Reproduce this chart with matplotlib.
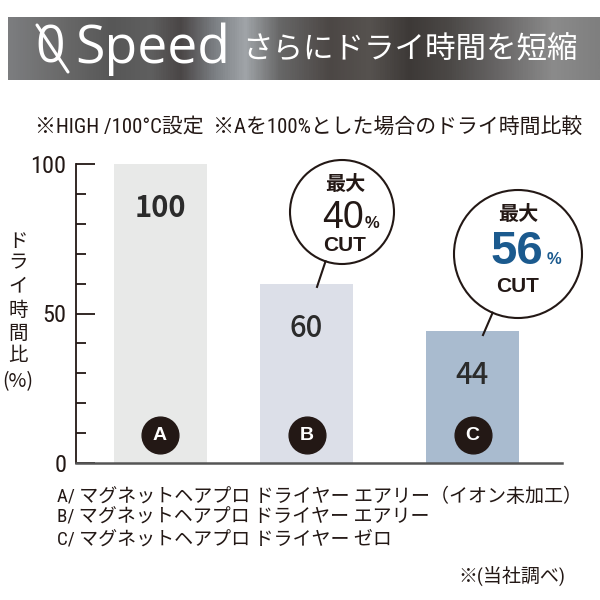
import matplotlib
matplotlib.use("Agg")
import matplotlib.pyplot as plt
import numpy as np
from matplotlib import font_manager
from matplotlib.colors import LinearSegmentedColormap
from matplotlib.lines import Line2D
from matplotlib.patches import Ellipse
from matplotlib.ticker import MultipleLocator

# --- data ---
labels = ["A", "B", "C"]
values = [100, 60, 44]
cut_pct = [None, 40, 56]
bar_colors = ["#e8e9e8", "#dcdfe8", "#a9bbcf"]
yticks = [0, 50, 100]
models = [
    "A/ マグネットヘアプロ ドライヤー エアリー（イオン未加工）",
    "B/ マグネットヘアプロ ドライヤー エアリー",
    "C/ マグネットヘアプロ ドライヤー ゼロ",
]
title_en = "Speed"
title_jp = "さらにドライ時間を短縮"
subtitle = "※HIGH /100°C設定  ※Aを100%とした場合のドライ時間比較"
ylabel_chars = ["ド", "ラ", "イ", "時", "間", "比", "(%)"]
note = "※(当社調べ)"

JP = "Noto Sans CJK JP"
SANS = "Liberation Sans"
INK = "#231815"


def pick_narrow():
    # look for an installed narrow / condensed sans face for the Latin text
    prefs = ["liberation sans narrow", "arial narrow", "roboto condensed", "noto sans",
             "dejavu sans", "open sans", "lato", "inter"]
    best = None
    for f in font_manager.fontManager.ttflist:
        name = f.name.lower()
        tag = (f.name + " " + f.fname.split("/")[-1]).lower()
        if "serif" in name.replace("sans serif", "") or "mono" in name or "cjk" in name:
            continue
        if not ("narrow" in tag or "condensed" in tag or str(f.stretch) in ("condensed", "semi-condensed")):
            continue
        if "extra" in tag or "ultra" in tag:
            continue
        rank = next((i for i, p in enumerate(prefs) if name.startswith(p)), len(prefs))
        if "semi" in tag:
            rank += 0.5
        if best is None or rank < best[0]:
            best = (rank, f.name)
    if best is None:
        return "Roboto", "normal"
    return best[1], "condensed"


NARROW, STRETCH = pick_narrow()

W = H = 600
fig = plt.figure(figsize=(6, 6), dpi=100)


def fx(px):
    return px / W


def fy(py):
    return 1 - py / H


# --- banner ---
stops = [(8, "#7c7d7f"), (60, "#6a6a6a"), (110, "#575757"), (150, "#5f5f5f"),
         (180, "#4a4646"), (215, "#7c8084"), (245, "#a0a4a8"), (280, "#676767"),
         (330, "#4c4745"), (370, "#56524f"), (410, "#3d3937"), (450, "#4b4846"),
         (500, "#686666"), (555, "#8b8b8b"), (600, "#7f7f7f")]
cmap = LinearSegmentedColormap.from_list("metal", [((p - 8) / 592, c) for p, c in stops])
bax = fig.add_axes([fx(8), fy(80), fx(592), 63 / H])
bax.imshow(np.linspace(0, 1, 600)[None, :], aspect="auto", cmap=cmap, extent=(0, 1, 0, 1))
bax.axis("off")

fig.text(fx(50), fy(49), "0", family="Open Sans", size=37, color="white", ha="center", va="center")
fig.add_artist(Line2D([fx(37), fx(68)], [fy(25), fy(72)], transform=fig.transFigure,
                      color="white", lw=2.2, solid_capstyle="round"))
fig.text(fx(75), fy(49), title_en, family="Open Sans", size=38.5, color="white", ha="left", va="center")
fig.text(fx(242), fy(50), title_jp, family=JP, size=22, color="white", ha="left", va="center")

fig.text(fx(35), fy(127), subtitle, family=[NARROW, JP], stretch=STRETCH, size=15, color=INK,
         ha="left", va="center")

# --- chart ---
left, right, top, bottom = 76, 562, 164, 463
ax = fig.add_axes([fx(left), fy(bottom), (right - left) / W, (bottom - top) / H])
ax.set_xlim(left, right)
ax.set_ylim(0, 100)
ppu = (bottom - top) / 100.0  # pixels per value unit

bar_x = [160, 306.5, 472.5]
ax.bar(bar_x, values, width=93, color=bar_colors, zorder=1)

for s in ["top", "right"]:
    ax.spines[s].set_visible(False)
ax.spines["left"].set_color(INK)
ax.spines["bottom"].set_color("#555555")
ax.spines["left"].set_linewidth(1.3)
ax.spines["bottom"].set_linewidth(1.8)
ax.set_xticks([])
ax.set_yticks(yticks)
ax.yaxis.set_minor_locator(MultipleLocator(10))
ax.tick_params(axis="y", which="major", direction="in", length=14, width=1.3, color=INK, pad=7,
               labelsize=17.5, labelcolor=INK)
ax.tick_params(axis="y", which="minor", direction="in", length=7, width=1.3, color=INK)
for t in ax.get_yticklabels():
    t.set_family(NARROW)
    t.set_stretch(STRETCH)

for i, (x, v) in enumerate(zip(bar_x, values)):
    ax.annotate(str(v), (x, v), xytext=(0, -32), textcoords="offset points", ha="center", va="center",
                family=JP, size=21, weight="bold" if i == 0 else "medium", color="#2b2b2b")

# letter badges
badge_y = 28 / ppu
ax.scatter(bar_x, [badge_y] * len(bar_x), s=700, color=INK, zorder=3, clip_on=False)
for x, lab in zip(bar_x, labels):
    ax.text(x, badge_y, lab, ha="center", va="center", family=SANS, weight="bold", size=14,
            color="white", zorder=4)

# speech bubbles, offsets in pixels
bubbles = {
    1: dict(dx=35.5, cy=212, r=52, tail_dx=-10.5, tail_dy=1.1, text_dx=3, num_size=27,
            num_weight="normal", num_color=INK, top_dy=-28, num_dy=16, num_dx=-2, pct_dx=27, cut_dy=34),
    2: dict(dx=45.5, cy=254, r=64, tail_dx=-10.5, tail_dy=1.2, text_dx=0, num_size=34,
            num_weight="bold", num_color="#1b5a8e", top_dy=-40, num_dy=10, num_dx=-1, pct_dx=36, cut_dy=32),
}
for i, b in bubbles.items():
    bx = bar_x[i] + b["dx"]
    cy = (bottom - b["cy"]) / ppu
    ax.add_patch(Ellipse((bx, cy), 2 * b["r"], 2 * b["r"] / ppu, facecolor="white", edgecolor=INK,
                         lw=1.5, zorder=5, clip_on=False))
    ex, ey = bar_x[i] - b["tail_dx"], values[i] - b["tail_dy"]
    dxp, dyp = ex - bx, (ey - cy) * ppu
    n = np.hypot(dxp, dyp)
    sx, sy = bx + b["r"] * dxp / n, cy + b["r"] * dyp / n / ppu
    ax.plot([sx, ex], [sy, ey], color=INK, lw=1.5, zorder=5, clip_on=False)

    tx = bx + b["text_dx"]
    ax.text(tx, cy - b["top_dy"] / ppu, "最大", ha="center", va="center", family=JP, weight="bold",
            size=14.5, color=INK, zorder=6)
    base = cy - b["num_dy"] / ppu
    ax.text(tx + b["num_dx"], base, str(cut_pct[i]), ha="center", va="baseline", family=SANS,
            weight=b["num_weight"], size=b["num_size"], color=b["num_color"], zorder=6)
    ax.text(tx + b["pct_dx"], base, "%", ha="center", va="baseline", family=SANS, weight="bold",
            size=12, color=b["num_color"], zorder=6)
    ax.text(tx, cy - b["cut_dy"] / ppu, "CUT", ha="center", va="center", family=SANS, weight="bold",
            size=15, color=INK, zorder=6)

# vertical y label
label_y = [242, 263, 286, 310, 333, 355, 382]
for ch, py in zip(ylabel_chars, label_y):
    fig.text(fx(18), fy(py), ch, ha="center", va="center", family=JP, size=14, color=INK)

# model list and note
for k, line in enumerate(models):
    fig.text(fx(57), fy(497 + 21 * k), line, ha="left", va="center", family=[NARROW, JP],
             stretch=STRETCH, size=13.7, color=INK)
fig.text(fx(565), fy(577), note, ha="right", va="center", family=[NARROW, JP], stretch=STRETCH,
         size=13.7, color=INK)

fig.savefig("out.png", dpi=100, facecolor="white")
